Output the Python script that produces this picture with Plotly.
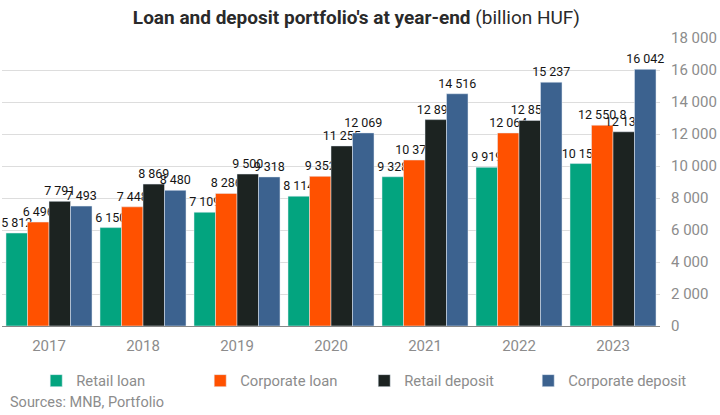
import plotly.graph_objects as go

years = ["2017", "2018", "2019", "2020", "2021", "2022", "2023"]
retail_loan = [5812, 6150, 7109, 8114, 9328, 9919, 10152]
corporate_loan = [6496, 7448, 8286, 9352, 10375, 12064, 12550.8]
retail_deposit = [7791, 8869, 9500, 11255, 12899, 12851, 12139]
corporate_deposit = [7493, 8480, 9318, 12069, 14516, 15237, 16042]

y_ticks = [0, 2000, 4000, 6000, 8000, 10000, 12000, 14000, 16000, 18000]


def fmt(v):
    # thousands separated by a space, keep the decimal if there is one
    if v != int(v):
        s = f"{v:,.1f}"
    else:
        s = f"{int(v):,}"
    return s.replace(",", " ")


series = [
    ("Retail loan", retail_loan, "#03a47f"),
    ("Corporate loan", corporate_loan, "#ff5100"),
    ("Retail deposit", retail_deposit, "#1c2321"),
    ("Corporate deposit", corporate_deposit, "#3c628f"),
]

fig = go.Figure()
for name, vals, col in series:
    fig.add_trace(go.Bar(
        x=years, y=vals, name=name, marker_color=col,
        text=[fmt(v) for v in vals], textposition="outside",
        textfont=dict(color="#151515", size=12.5, family="Roboto"),
        constraintext="none", cliponaxis=False,
    ))

fig.update_layout(
    width=720, height=415,
    barmode="group", bargap=0.085, bargroupgap=0,
    plot_bgcolor="white", paper_bgcolor="white",
    font=dict(family="Roboto", color="#8c8c8c", size=14.5),
    margin=dict(l=2, r=60, t=38, b=89, autoexpand=False),
    title=dict(
        text="<b>Loan and deposit portfolio's at year-end</b> (billion HUF)",
        x=0.495, xanchor="center", y=0.958, yanchor="middle",
        font=dict(family="Roboto", size=19, color="#2a2a2a"),
    ),
    xaxis=dict(showline=True, linecolor="#888888", linewidth=1, ticks="",
               ticklabelstandoff=6,
               tickfont=dict(size=15, color="#8c8c8c")),
    yaxis=dict(side="right", range=[0, 18000], tickvals=y_ticks,
               ticktext=[fmt(t) for t in y_ticks],
               gridcolor="#dddddd", zeroline=False, ticklabelstandoff=10,
               tickfont=dict(size=15, color="#8c8c8c")),
    legend=dict(orientation="h", x=0.052, xanchor="left", y=-0.191, yanchor="middle",
                entrywidth=119, itemwidth=30,
                font=dict(size=14.8, color="#8c8c8c")),
    annotations=[dict(text="Sources: MNB, Portfolio", xref="paper", yref="paper",
                      x=0.009, xanchor="left", y=-0.267, yanchor="middle",
                      showarrow=False, font=dict(size=14.5, color="#8c8c8c"))],
)

fig.write_html("out.html", config={"displayModeBar": False},
               post_script="document.body.style.margin='0';")
